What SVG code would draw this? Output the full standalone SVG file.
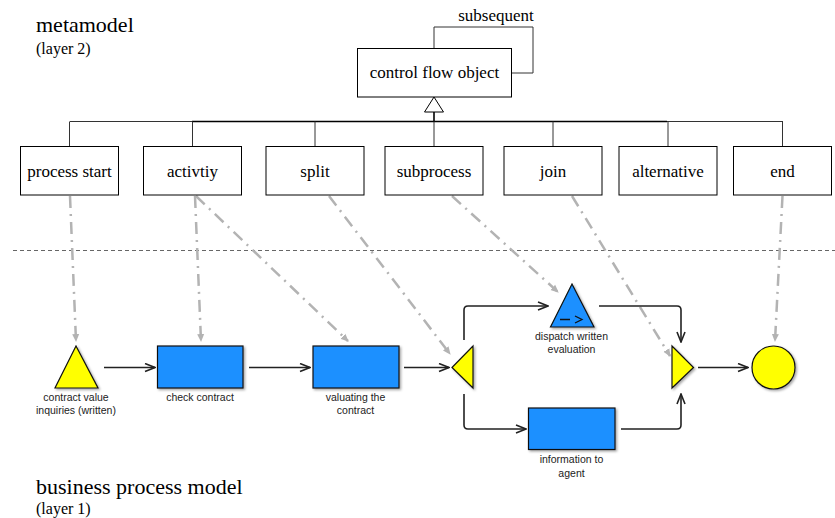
<svg xmlns="http://www.w3.org/2000/svg" width="835" height="518" viewBox="0 0 835 518">
<style>
.serif{font-family:"Liberation Serif","Times New Roman",serif;fill:#000}
.big{font-size:22px}
.small{font-size:16px}
.box{fill:#fff;stroke:#000;stroke-width:1}
.boxt{font-family:"Liberation Serif","Times New Roman",serif;font-size:17px;text-anchor:middle;fill:#000}
.lbl{font-family:"Liberation Sans",Arial,sans-serif;font-size:10.5px;text-anchor:middle;fill:#222}
.tree{fill:none;stroke:#333;stroke-width:1}
.treeb{fill:none;stroke:#000;stroke-width:1.6}
.inst{fill:none;stroke:#b3b3b3;stroke-width:2.5;stroke-dasharray:12 6 2 6;marker-end:url(#ga)}
.flow{fill:none;stroke:#222;stroke-width:1.6;marker-end:url(#fa)}
.yel{fill:#ffff00;stroke:#111;stroke-width:1.2;filter:url(#sh)}
.blue{fill:#1e90ff;stroke:#111;stroke-width:1.2;filter:url(#sh)}
.sep{stroke:#666;stroke-width:1.2;stroke-dasharray:4 3}
</style>
<defs>
<marker id="ga" viewBox="0 0 8 8" refX="7" refY="4" markerWidth="8" markerHeight="8" markerUnits="userSpaceOnUse" orient="auto">
<path d="M0,0.5 L8,4 L0,7.5 z" fill="#b3b3b3"/>
</marker>
<marker id="fa" viewBox="0 0 12 10" refX="11" refY="5" markerWidth="12" markerHeight="10" markerUnits="userSpaceOnUse" orient="auto">
<path d="M1,1 L11,5 L1,9" fill="none" stroke="#222" stroke-width="1.6"/>
</marker>
<filter id="sh" x="-20%" y="-20%" width="150%" height="150%">
<feDropShadow dx="1.5" dy="1.5" stdDeviation="0.8" flood-color="#000" flood-opacity="0.35"/>
</filter>
</defs>

<text class="serif big" x="36" y="32">metamodel</text>
<text class="serif small" x="36" y="54">(layer 2)</text>
<text class="serif big" x="36" y="494">business process model</text>
<text class="serif small" x="36" y="514">(layer 1)</text>

<line class="sep" x1="13" y1="250.5" x2="835" y2="250.5"/>

<g id="connectors">
<path class="tree" d="M434,48 V27 H533 V73 H512"/>
<path class="treeb" d="M434,112 V121.5"/>
<path class="tree" d="M70,121.5 H192 M667,121.5 H783"/>
<path class="treeb" d="M192,121.5 H667"/>
<path class="tree" d="M69.5,121.5 V146 M192.5,121.5 V146 M315,121.5 V146 M434,121.5 V146 M553,121.5 V146 M668,121.5 V146 M782.5,121.5 V146"/>
<path d="M434,97 L443.5,112 L424.5,112 z" fill="#fff" stroke="#000" stroke-width="1"/>
<path class="inst" d="M70,196 L76,341"/>
<path class="inst" d="M195,196 L201,341"/>
<path class="inst" d="M196,196 L348,341"/>
<path class="inst" d="M329,196 L450,354"/>
<path class="inst" d="M452,196 L558,292"/>
<path class="inst" d="M572,196 L670,356"/>
<path class="inst" d="M782.5,196 L775,341"/>
<path class="flow" d="M104,367.5 H155"/>
<path class="flow" d="M249,367.5 H310"/>
<path class="flow" d="M404,367.5 H449"/>
<path class="flow" d="M464,340 V310 Q464,306 468,306 H548"/>
<path class="flow" d="M599,306 H677 Q681,306 681,310 V342"/>
<path class="flow" d="M464,394 V425 Q464,429 468,429 H526"/>
<path class="flow" d="M621,429 H677 Q681,429 681,425 V394"/>
<path class="flow" d="M698,367.5 H748"/>
</g>

<g id="control-flow-object">
<rect class="box" x="357.5" y="48.5" width="154" height="48.5"/>
<text class="boxt" x="434.5" y="78">control flow object</text>
<text class="boxt" x="496" y="21">subsequent</text>
</g>
<g id="process-start"><rect class="box" x="20.5" y="146.5" width="98" height="48.5"/><text class="boxt" x="69.5" y="177">process start</text></g>
<g id="activtiy"><rect class="box" x="143.5" y="146.5" width="98" height="48.5"/><text class="boxt" x="192.5" y="177">activtiy</text></g>
<g id="split"><rect class="box" x="266" y="146.5" width="98" height="48.5"/><text class="boxt" x="315" y="177">split</text></g>
<g id="subprocess"><rect class="box" x="385" y="146.5" width="98" height="48.5"/><text class="boxt" x="434" y="177">subprocess</text></g>
<g id="join"><rect class="box" x="504" y="146.5" width="98" height="48.5"/><text class="boxt" x="553" y="177">join</text></g>
<g id="alternative"><rect class="box" x="619" y="146.5" width="98" height="48.5"/><text class="boxt" x="668" y="177">alternative</text></g>
<g id="end"><rect class="box" x="733.5" y="146.5" width="98" height="48.5"/><text class="boxt" x="782.5" y="177">end</text></g>

<g id="start-event">
<path class="yel" d="M76,346 L98,388 L55,388 z"/>
<text class="lbl" x="76" y="401">contract value</text>
<text class="lbl" x="76" y="414">inquiries (written)</text>
</g>
<g id="check-contract">
<rect class="blue" x="157.5" y="346" width="85.5" height="42"/>
<text class="lbl" x="200" y="401">check contract</text>
</g>
<g id="valuating-contract">
<rect class="blue" x="313" y="346" width="86" height="42"/>
<text class="lbl" x="355.5" y="401">valuating the</text>
<text class="lbl" x="355.5" y="414">contract</text>
</g>
<g id="split-gateway">
<path class="yel" d="M452,367.5 L473,346 L473,388 z"/>
</g>
<g id="dispatch">
<path class="blue" d="M572,284 L594,327 L550.5,327 z"/>
<path d="M560,319.5 H570 M575,316 L582,319.5 L575,323" fill="none" stroke="#111" stroke-width="1.3"/>
<text class="lbl" x="571.5" y="339.5">dispatch written</text>
<text class="lbl" x="571.5" y="352.5">evaluation</text>
</g>
<g id="information-agent">
<rect class="blue" x="528.5" y="408" width="86.5" height="41.5"/>
<text class="lbl" x="571.5" y="463">information to</text>
<text class="lbl" x="571.5" y="477">agent</text>
</g>
<g id="join-gateway">
<path class="yel" d="M672,346 L693.5,367.5 L672,388 z"/>
</g>
<g id="end-event">
<circle class="yel" cx="773.5" cy="367.5" r="21.5"/>
</g>
</svg>
